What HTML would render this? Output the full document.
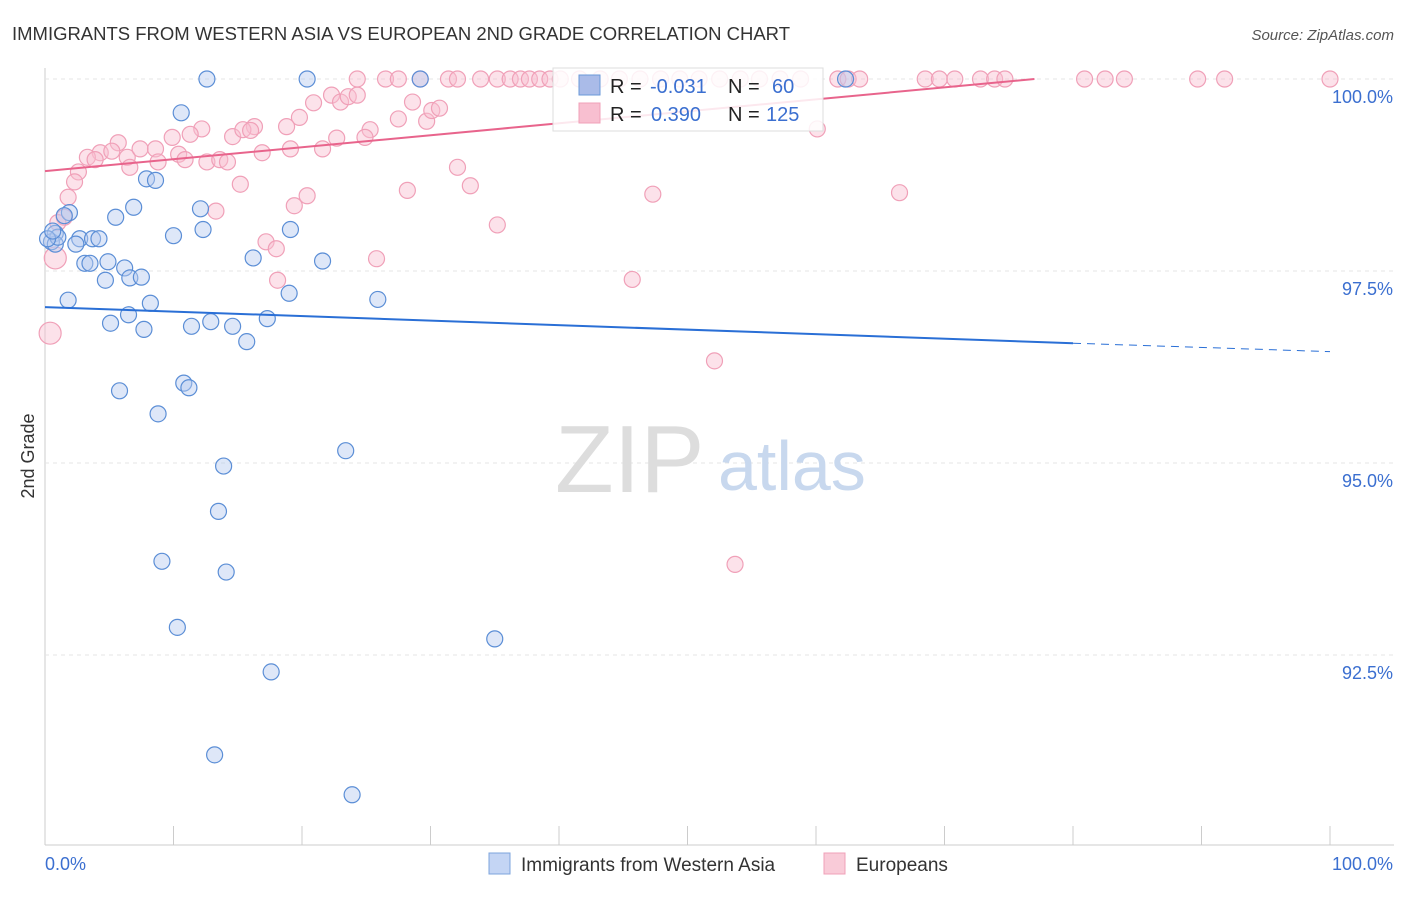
<!DOCTYPE html>
<html><head><meta charset="utf-8"><style>
body{margin:0;background:#fff;font-family:"Liberation Sans",sans-serif}
svg text{font-family:"Liberation Sans",sans-serif}
</style></head><body>
<svg id="c" width="1406" height="892" xmlns="http://www.w3.org/2000/svg">
<text x="12" y="40" font-size="18" fill="#333" textLength="778" lengthAdjust="spacingAndGlyphs">IMMIGRANTS FROM WESTERN ASIA VS EUROPEAN 2ND GRADE CORRELATION CHART</text>
<text x="1394" y="40" font-size="15" fill="#555" text-anchor="end" font-style="italic">Source: ZipAtlas.com</text>
<text transform="translate(34,456) rotate(-90)" font-size="18" fill="#333" text-anchor="middle">2nd Grade</text>
<g id="grid"></g>
<text x="555" y="492" font-size="96" fill="#ddd" font-family="Liberation Serif">ZIP</text>
<text x="718" y="490" font-size="70" fill="#c8d8ee">atlas</text>
<g id="pts"></g>
<g id="lines"></g>
<g>
<rect x="553" y="68" width="270" height="63" fill="#fff" fill-opacity="0.85" stroke="#ddd"/>
<rect x="579" y="75" width="21" height="20" fill="#aabbe8" stroke="#6a98d8"/>
<text x="610" y="93" font-size="20" fill="#222">R = </text><text x="650" y="93" font-size="20" fill="#3b6fd0">-0.031</text>
<text x="728" y="93" font-size="20" fill="#222">N = </text><text x="772" y="93" font-size="20" fill="#3b6fd0">60</text>
<rect x="579" y="103" width="21" height="20" fill="#f8bfd0" stroke="#f0a0b8"/>
<text x="610" y="121" font-size="20" fill="#222">R = </text><text x="651" y="121" font-size="20" fill="#3b6fd0">0.390</text>
<text x="728" y="121" font-size="20" fill="#222">N = </text><text x="766" y="121" font-size="20" fill="#3b6fd0">125</text>
</g>
<g>
<rect x="489" y="853" width="21" height="21" fill="#c4d5f4" stroke="#7da4dd"/>
<text x="521" y="871" font-size="19" fill="#333">Immigrants from Western Asia</text>
<rect x="824" y="853" width="21" height="21" fill="#f9cbd8" stroke="#f0a0b8"/>
<text x="856" y="871" font-size="19" fill="#333">Europeans</text>
</g>
</svg>
<script>
const xTicks=[0,10,20,30,40,50,60,70,80,90,100];
const yTicks=[92.5,95,97.5,100];
const blueX=[12.6,20.4,29.2,62.3,10.6,7.9,8.6,6.9,1.9,1.5,5.5,12.1,10.0,12.3,19.1,0.8,0.5,2.7,2.4,3.7,4.2,16.2,21.6,3.1,3.5,4.9,6.2,6.6,7.5,4.7,19.0,25.9,1.8,8.2,6.5,5.1,7.7,11.4,12.9,14.6,17.3,15.7,5.8,10.8,11.2,8.8,23.4,13.9,13.5,9.1,14.1,10.3,35.0,17.6,13.2,23.9,0.8,1.0,0.2,0.6];
const blueY=[100,100,100,100,99.56,98.7,98.68,98.33,98.26,98.22,98.2,98.31,97.96,98.04,98.04,97.99,97.88,97.92,97.85,97.92,97.92,97.67,97.63,97.6,97.6,97.62,97.54,97.41,97.42,97.38,97.21,97.13,97.12,97.08,96.93,96.82,96.74,96.78,96.84,96.78,96.88,96.58,95.94,96.04,95.98,95.64,95.16,94.96,94.37,93.72,93.58,92.86,92.71,92.28,91.2,90.68,97.85,97.94,97.92,98.02];
const pinkTopX=[24.3,26.5,27.5,29.2,31.4,32.1,33.9,35.2,36.2,37.0,37.7,38.5,39.3,40.1,41.6,43.2,44.7,46.3,47.9,49.4,50.9,52.5,54.1,55.6,57.2,58.8,61.7,62.5,63.4,68.5,69.6,70.8,72.8,73.9,74.7,80.9,82.5,84.0,89.7,91.8,100];
const pinkTopY=pinkTopX.map(()=>100);
const pinkX=[22.3,23.0,23.6,24.3,20.9,19.8,18.8,16.3,14.6,12.2,11.3,9.9,5.7,4.3,5.2,3.3,3.9,6.4,7.4,8.6,8.8,10.4,10.9,12.6,13.6,14.2,16.9,19.1,21.6,22.7,25.3,24.9,27.5,28.6,29.7,30.1,30.7,32.1,33.1,28.2,20.4,19.4,15.2,13.3,6.6,2.6,2.3,1.8,1.5,1.0,0.8,0.4,17.2,18.0,18.1,25.8,35.2,45.7,47.3,52.1,53.7,60.1,66.5,15.4,16.0];
const pinkY=[99.79,99.7,99.77,99.79,99.69,99.5,99.38,99.38,99.25,99.35,99.28,99.24,99.17,99.04,99.06,98.98,98.95,98.98,99.09,99.09,98.92,99.02,98.95,98.92,98.95,98.92,99.04,99.09,99.09,99.23,99.34,99.24,99.48,99.7,99.45,99.59,99.62,98.85,98.61,98.55,98.48,98.35,98.63,98.28,98.85,98.79,98.66,98.46,98.2,98.13,97.67,96.69,97.88,97.79,97.38,97.66,98.1,97.39,98.5,96.33,93.68,99.35,98.52,99.34,99.33];
const ox=45,x1=1330,yTop=79,pxPer=76.8;
const X=v=>ox+(x1-ox)*v/100, Y=v=>yTop+(100-v)*pxPer;
const NS="http://www.w3.org/2000/svg";
const g=document.getElementById('grid'),P=document.getElementById('pts'),L=document.getElementById('lines'),svg=document.getElementById('c');
function mk(t,a,p){const e=document.createElementNS(NS,t);for(const k in a)e.setAttribute(k,a[k]);p.appendChild(e);return e;}
const ax=mk('line',{x1:45,y1:845,x2:1394,y2:845,stroke:'#ccc'},g);


const ay=mk('line',{x1:45,y1:68,x2:45,y2:845,stroke:'#ccc'},g);


yTicks.forEach(v=>{
 const l=mk('line',{x1:45,y1:Y(v),x2:1394,y2:Y(v),stroke:'#e4e4e4','stroke-dasharray':'4,4'},g);
 
 
 const t=mk('text',{x:1393,y:Y(v)+24,'font-size':18,fill:'#3b6fd0','text-anchor':'end'},g);
 t.textContent=v.toFixed(1)+'%';
 
 
});
xTicks.forEach(v=>{
 const l=mk('line',{x1:X(v),y1:826,x2:X(v),y2:845,stroke:'#ccc'},g);
 
 
});
[[0,'0.0%','start',45],[100,'100.0%','end',1393]].forEach(a=>{
 const t=mk('text',{x:a[3],y:870,'font-size':18,fill:'#3b6fd0','text-anchor':a[2]},g);
 t.textContent=a[1];
 
 
});
function dot(x,y,fill,stroke,r,name){
 const c=mk('circle',{cx:X(x),cy:Y(y),r:r,fill:fill,'fill-opacity':0.45,stroke:stroke,'stroke-width':1.2},P);
 
 
}
pinkTopX.forEach((x,i)=>dot(x,pinkTopY[i],'#f8bfd0','#f0a0b8',8,'european-point'));
pinkX.forEach((x,i)=>dot(x,pinkY[i],'#f8bfd0','#f0a0b8',i>=50&&i<52?11:8,'european-point'));
blueX.forEach((x,i)=>dot(x,blueY[i],'#b5caf0','#5b8ed6',8,'western-asia-point'));
const bl=mk('line',{x1:X(0),y1:Y(97.03),x2:X(80),y2:Y(96.56),stroke:'#2a6fd6','stroke-width':2},L);


const bd=mk('line',{x1:X(80),y1:Y(96.56),x2:X(100),y2:Y(96.45),stroke:'#2a6fd6','stroke-width':1,'stroke-dasharray':'8,6'},L);


const pl=mk('line',{x1:X(0),y1:Y(98.8),x2:X(77),y2:Y(100),stroke:'#e8648c','stroke-width':2},L);


</script>
</body></html>
